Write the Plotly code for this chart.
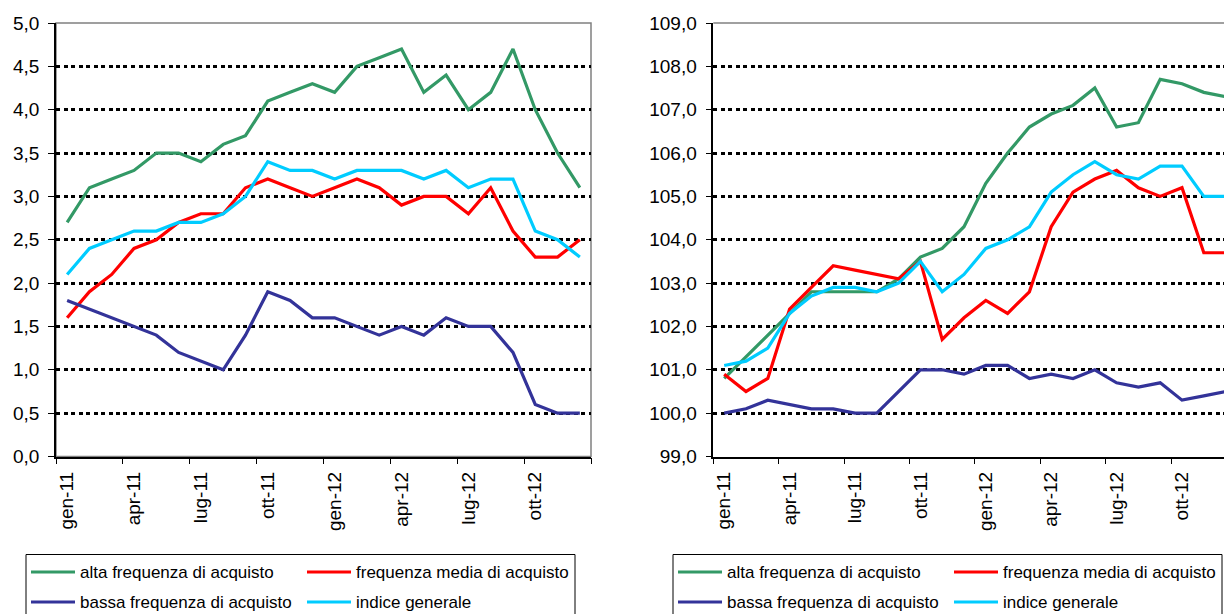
import plotly.graph_objects as go

# Months shown on the category axis
months = ["gen-11", "feb-11", "mar-11", "apr-11", "mag-11", "giu-11",
          "lug-11", "ago-11", "set-11", "ott-11", "nov-11", "dic-11",
          "gen-12", "feb-12", "mar-12", "apr-12", "mag-12", "giu-12",
          "lug-12", "ago-12", "set-12", "ott-12", "nov-12", "dic-12"]

series_names = ["alta frequenza di acquisto", "frequenza media di acquisto",
                "bassa frequenza di acquisto", "indice generale"]
series_colors = ["#339966", "#FF0000", "#333399", "#00CCFF"]

# Left panel: year-on-year variations (%)
var_alta = [2.7, 3.1, 3.2, 3.3, 3.5, 3.5, 3.4, 3.6, 3.7, 4.1, 4.2, 4.3,
            4.2, 4.5, 4.6, 4.7, 4.2, 4.4, 4.0, 4.2, 4.7, 4.0, 3.5, 3.1]
var_media = [1.6, 1.9, 2.1, 2.4, 2.5, 2.7, 2.8, 2.8, 3.1, 3.2, 3.1, 3.0,
             3.1, 3.2, 3.1, 2.9, 3.0, 3.0, 2.8, 3.1, 2.6, 2.3, 2.3, 2.5]
var_bassa = [1.8, 1.7, 1.6, 1.5, 1.4, 1.2, 1.1, 1.0, 1.4, 1.9, 1.8, 1.6,
             1.6, 1.5, 1.4, 1.5, 1.4, 1.6, 1.5, 1.5, 1.2, 0.6, 0.5, 0.5]
var_indice = [2.1, 2.4, 2.5, 2.6, 2.6, 2.7, 2.7, 2.8, 3.0, 3.4, 3.3, 3.3,
              3.2, 3.3, 3.3, 3.3, 3.2, 3.3, 3.1, 3.2, 3.2, 2.6, 2.5, 2.3]

# Right panel: index levels
idx_alta = [100.8, 101.3, 101.8, 102.3, 102.8, 102.8, 102.8, 102.8, 103.1, 103.6, 103.8, 104.3,
            105.3, 106.0, 106.6, 106.9, 107.1, 107.5, 106.6, 106.7, 107.7, 107.6, 107.4, 107.3]
idx_media = [100.9, 100.5, 100.8, 102.4, 102.9, 103.4, 103.3, 103.2, 103.1, 103.5, 101.7, 102.2,
             102.6, 102.3, 102.8, 104.3, 105.1, 105.4, 105.6, 105.2, 105.0, 105.2, 103.7, 103.7]
idx_bassa = [100.0, 100.1, 100.3, 100.2, 100.1, 100.1, 100.0, 100.0, 100.5, 101.0, 101.0, 100.9,
             101.1, 101.1, 100.8, 100.9, 100.8, 101.0, 100.7, 100.6, 100.7, 100.3, 100.4, 100.5]
idx_indice = [101.1, 101.2, 101.5, 102.3, 102.7, 102.9, 102.9, 102.8, 103.0, 103.5, 102.8, 103.2,
              103.8, 104.0, 104.3, 105.1, 105.5, 105.8, 105.5, 105.4, 105.7, 105.7, 105.0, 105.0]

W, H = 1224, 614
FONT = "Liberation Sans, Arial, sans-serif"


def px(x):
    return x / W


def py(y):
    return 1 - y / H


fig = go.Figure()

left_series = [var_alta, var_media, var_bassa, var_indice]
right_series = [idx_alta, idx_media, idx_bassa, idx_indice]

for name, color, ys in zip(series_names, series_colors, left_series):
    fig.add_trace(go.Scatter(x=months, y=ys, name=name, mode="lines",
                             line=dict(color=color, width=3.2),
                             xaxis="x", yaxis="y", showlegend=False))
for name, color, ys in zip(series_names, series_colors, right_series):
    fig.add_trace(go.Scatter(x=months, y=ys, name=name, mode="lines",
                             line=dict(color=color, width=3.2),
                             xaxis="x2", yaxis="y2", showlegend=False))

plot_top, plot_bottom = 23, 456.5
left_x0, left_x1 = 56, 591
right_x0 = 713.3
month_px_right = 21.8
right_end = -0.5 + (W - right_x0) / month_px_right

tick_font = dict(family=FONT, size=19, color="black")

xaxis_common = dict(
    type="category", tickson="boundaries", dtick=3, tick0=0,
    tickangle=-90, ticks="outside", ticklen=6, tickcolor="black", tickwidth=1,
    showline=True, linecolor="black", linewidth=1.5, showgrid=False,
    tickfont=tick_font, ticklabelstandoff=6, fixedrange=True, automargin=False,
)
yaxis_common = dict(
    ticks="outside", ticklen=6, tickcolor="black", tickwidth=1,
    showline=True, linecolor="black", linewidth=1.5,
    showgrid=True, gridcolor="black", gridwidth=3, griddash="4px,3.5px",
    zeroline=False, tickformat=".1f", tickfont=tick_font,
    ticklabelstandoff=5, fixedrange=True, automargin=False,
)

fig.update_layout(
    width=W, height=H,
    margin=dict(l=0, r=0, t=0, b=0, pad=0, autoexpand=False),
    paper_bgcolor="white", plot_bgcolor="white",
    separators=",.",
    font=dict(family=FONT, color="black"),
    xaxis=dict(domain=[px(left_x0), px(left_x1)], anchor="y",
               range=[-0.5, 23.5], **xaxis_common),
    yaxis=dict(domain=[py(plot_bottom), py(plot_top)], anchor="x",
               range=[0, 5], dtick=0.5, **yaxis_common),
    xaxis2=dict(domain=[px(right_x0), 1.0], anchor="y2",
                range=[-0.5, right_end], **xaxis_common),
    yaxis2=dict(domain=[py(plot_bottom), py(plot_top)], anchor="x2",
                range=[99, 109], dtick=1, **yaxis_common),
)

shapes = []
# grey plot-area frames (top and right edges)
shapes.append(dict(type="rect", xref="paper", yref="paper", layer="below",
                   x0=px(left_x0), x1=px(left_x1), y0=py(plot_bottom), y1=py(plot_top),
                   line=dict(color="#808080", width=1.5)))
shapes.append(dict(type="line", xref="paper", yref="paper", layer="below",
                   x0=px(right_x0), x1=1.0, y0=py(plot_top), y1=py(plot_top),
                   line=dict(color="#808080", width=1.5)))

annotations = []
# legend boxes under each panel
legend_lefts = [26, 673]
legend_width = 549
legend_top = 554.5
row_y = [572, 602]
col_dx = [5, 281]
for L in legend_lefts:
    shapes.append(dict(type="rect", xref="paper", yref="paper",
                       x0=px(L), x1=px(L + legend_width), y0=py(legend_top), y1=py(H + 20),
                       line=dict(color="black", width=1), fillcolor="white", layer="above"))
    for k, (name, color) in enumerate(zip(series_names, series_colors)):
        r, c = k // 2, k % 2
        x0 = L + col_dx[c]
        shapes.append(dict(type="line", xref="paper", yref="paper",
                           x0=px(x0), x1=px(x0 + 44), y0=py(row_y[r]), y1=py(row_y[r]),
                           line=dict(color=color, width=3), layer="above"))
        annotations.append(dict(xref="paper", yref="paper", x=px(x0 + 47), y=py(row_y[r]),
                                text=name, showarrow=False, xanchor="left", yanchor="middle",
                                font=dict(family=FONT, size=17, color="black")))

fig.update_layout(shapes=shapes, annotations=annotations)

fig.write_html("out.html")
